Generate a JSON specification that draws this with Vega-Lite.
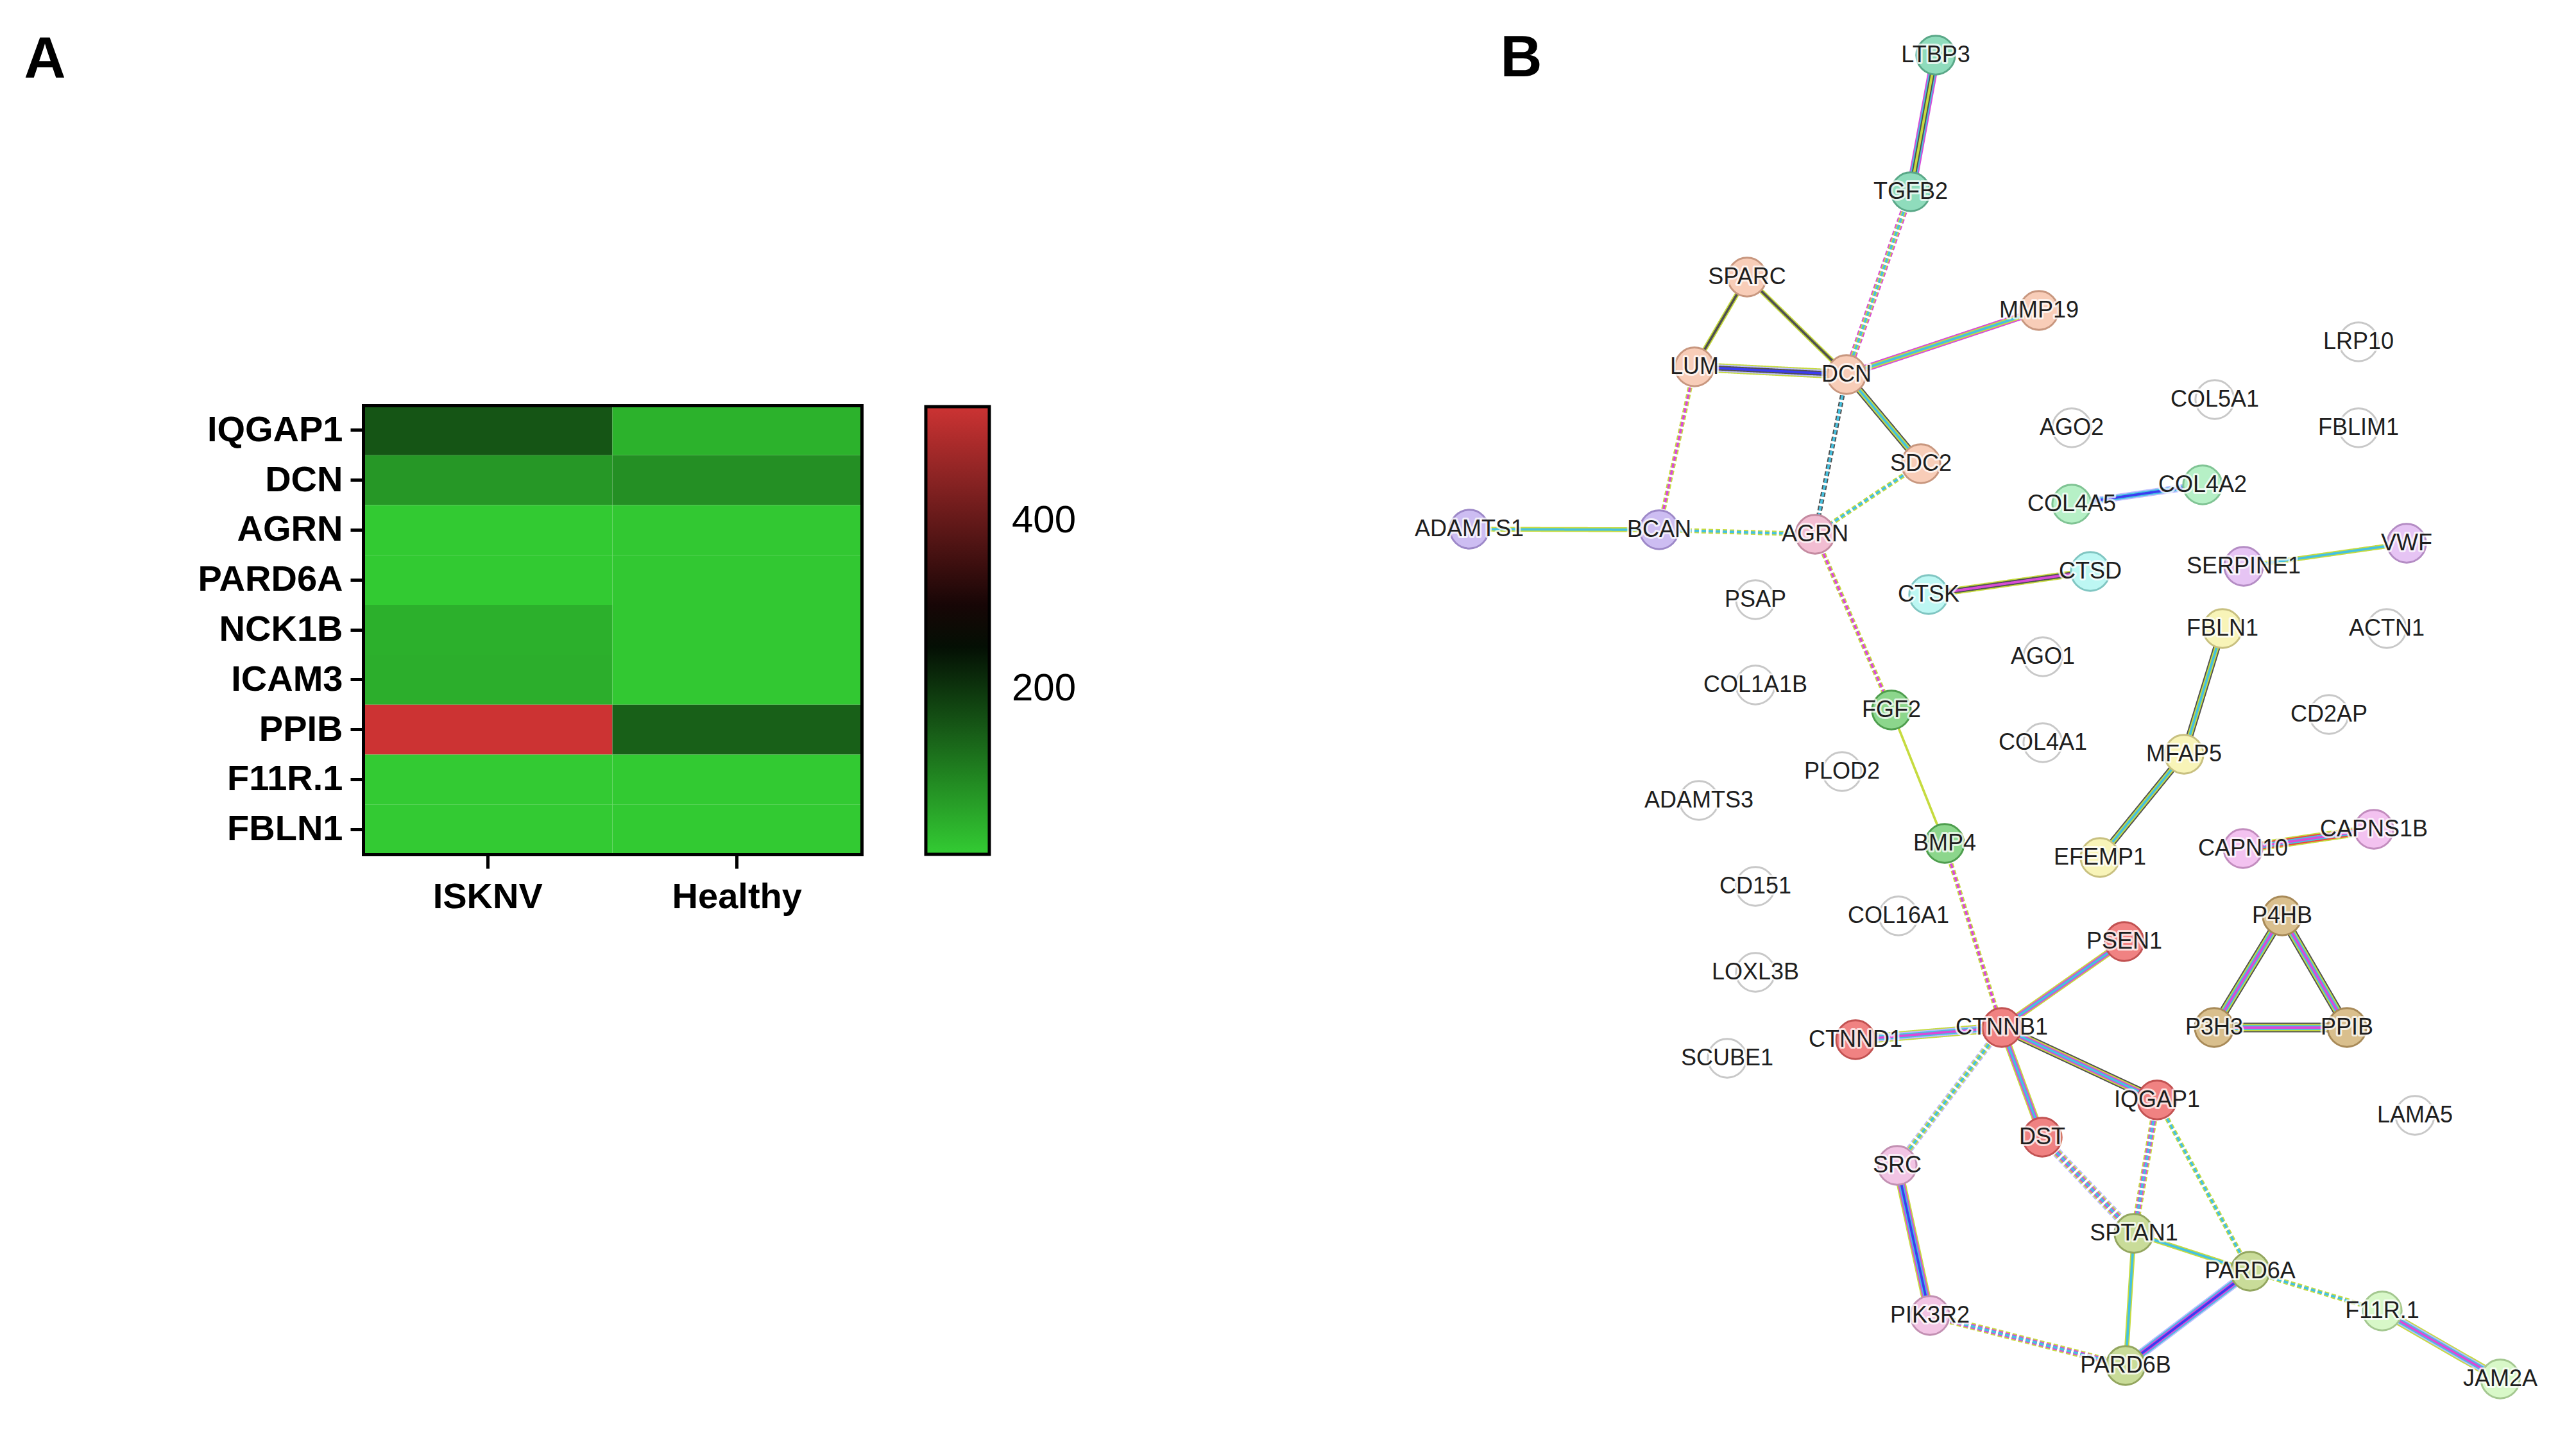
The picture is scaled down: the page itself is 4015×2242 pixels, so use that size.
{
  "$schema": "https://vega.github.io/schema/vega-lite/v6.json",
  "width": 4015,
  "height": 2242,
  "autosize": "none",
  "padding": 0,
  "background": "white",
  "config": {"view": {"stroke": null}, "font": "Liberation Sans"},
  "datasets": {
    "heat": [
      {"gene": "IQGAP1", "group": "ISKNV", "value": 158},
      {"gene": "IQGAP1", "group": "Healthy", "value": 37},
      {"gene": "DCN", "group": "ISKNV", "value": 72},
      {"gene": "DCN", "group": "Healthy", "value": 83},
      {"gene": "AGRN", "group": "ISKNV", "value": 6},
      {"gene": "AGRN", "group": "Healthy", "value": 8},
      {"gene": "PARD6A", "group": "ISKNV", "value": 6},
      {"gene": "PARD6A", "group": "Healthy", "value": 8},
      {"gene": "NCK1B", "group": "ISKNV", "value": 40},
      {"gene": "NCK1B", "group": "Healthy", "value": 8},
      {"gene": "ICAM3", "group": "ISKNV", "value": 42},
      {"gene": "ICAM3", "group": "Healthy", "value": 8},
      {"gene": "PPIB", "group": "ISKNV", "value": 536},
      {"gene": "PPIB", "group": "Healthy", "value": 144},
      {"gene": "F11R.1", "group": "ISKNV", "value": 5},
      {"gene": "F11R.1", "group": "Healthy", "value": 6},
      {"gene": "FBLN1", "group": "ISKNV", "value": 5},
      {"gene": "FBLN1", "group": "Healthy", "value": 6}
    ],
    "nodes": [
      {"id": "LTBP3", "x": 817, "y": 86, "cl": "c1"},
      {"id": "TGFB2", "x": 778, "y": 299, "cl": "c1"},
      {"id": "SPARC", "x": 523, "y": 432, "cl": "c2"},
      {"id": "MMP19", "x": 978, "y": 484, "cl": "c2"},
      {"id": "LUM", "x": 441, "y": 572, "cl": "c2"},
      {"id": "DCN", "x": 678, "y": 584, "cl": "c2"},
      {"id": "LRP10", "x": 1476, "y": 533, "cl": "none"},
      {"id": "COL5A1", "x": 1252, "y": 623, "cl": "none"},
      {"id": "AGO2", "x": 1029, "y": 667, "cl": "none"},
      {"id": "FBLIM1", "x": 1476, "y": 667, "cl": "none"},
      {"id": "SDC2", "x": 794, "y": 723, "cl": "c2"},
      {"id": "COL4A2", "x": 1233, "y": 756, "cl": "c5"},
      {"id": "COL4A5", "x": 1029, "y": 786, "cl": "c5"},
      {"id": "ADAMTS1", "x": 90, "y": 825, "cl": "c3"},
      {"id": "BCAN", "x": 386, "y": 826, "cl": "c3"},
      {"id": "AGRN", "x": 629, "y": 833, "cl": "c4"},
      {"id": "VWF", "x": 1551, "y": 847, "cl": "c7"},
      {"id": "SERPINE1", "x": 1297, "y": 883, "cl": "c7"},
      {"id": "CTSD", "x": 1058, "y": 891, "cl": "c6"},
      {"id": "CTSK", "x": 806, "y": 927, "cl": "c6"},
      {"id": "PSAP", "x": 536, "y": 935, "cl": "none"},
      {"id": "FBLN1", "x": 1264, "y": 980, "cl": "c8"},
      {"id": "ACTN1", "x": 1520, "y": 980, "cl": "none"},
      {"id": "AGO1", "x": 984, "y": 1024, "cl": "none"},
      {"id": "COL1A1B", "x": 536, "y": 1068, "cl": "none"},
      {"id": "FGF2", "x": 748, "y": 1107, "cl": "c9"},
      {"id": "CD2AP", "x": 1430, "y": 1114, "cl": "none"},
      {"id": "COL4A1", "x": 984, "y": 1158, "cl": "none"},
      {"id": "MFAP5", "x": 1204, "y": 1176, "cl": "c8"},
      {"id": "PLOD2", "x": 671, "y": 1203, "cl": "none"},
      {"id": "ADAMTS3", "x": 448, "y": 1248, "cl": "none"},
      {"id": "BMP4", "x": 831, "y": 1315, "cl": "c9"},
      {"id": "EFEMP1", "x": 1073, "y": 1337, "cl": "c8"},
      {"id": "CAPN10", "x": 1296, "y": 1323, "cl": "c10"},
      {"id": "CAPNS1B", "x": 1500, "y": 1293, "cl": "c10"},
      {"id": "CD151", "x": 536, "y": 1382, "cl": "none"},
      {"id": "COL16A1", "x": 759, "y": 1428, "cl": "none"},
      {"id": "P4HB", "x": 1357, "y": 1428, "cl": "c11"},
      {"id": "PSEN1", "x": 1111, "y": 1468, "cl": "c12"},
      {"id": "LOXL3B", "x": 536, "y": 1516, "cl": "none"},
      {"id": "CTNNB1", "x": 920, "y": 1602, "cl": "c12"},
      {"id": "CTNND1", "x": 692, "y": 1621, "cl": "c12"},
      {"id": "P3H3", "x": 1251, "y": 1602, "cl": "c11"},
      {"id": "PPIB", "x": 1458, "y": 1602, "cl": "c11"},
      {"id": "SCUBE1", "x": 492, "y": 1650, "cl": "none"},
      {"id": "IQGAP1", "x": 1162, "y": 1715, "cl": "c12"},
      {"id": "LAMA5", "x": 1564, "y": 1739, "cl": "none"},
      {"id": "DST", "x": 983, "y": 1773, "cl": "c12"},
      {"id": "SRC", "x": 757, "y": 1817, "cl": "c13"},
      {"id": "SPTAN1", "x": 1126, "y": 1923, "cl": "c14"},
      {"id": "PARD6A", "x": 1307, "y": 1982, "cl": "c14"},
      {"id": "F11R.1", "x": 1513, "y": 2044, "cl": "c15"},
      {"id": "PIK3R2", "x": 808, "y": 2051, "cl": "c13"},
      {"id": "PARD6B", "x": 1113, "y": 2129, "cl": "c14"},
      {"id": "JAM2A", "x": 1697, "y": 2150, "cl": "c15"}
    ],
    "edges": [
      {"s": "LTBP3", "t": "TGFB2", "ev": "exp", "lane": 4, "dash": "solid"},
      {"s": "LTBP3", "t": "TGFB2", "ev": "db", "lane": 3, "dash": "solid"},
      {"s": "LTBP3", "t": "TGFB2", "ev": "coex", "lane": 2, "dash": "solid"},
      {"s": "LTBP3", "t": "TGFB2", "ev": "txt", "lane": 1, "dash": "solid"},
      {"s": "SPARC", "t": "LUM", "ev": "txt", "lane": 2, "dash": "solid"},
      {"s": "SPARC", "t": "LUM", "ev": "coex", "lane": 1, "dash": "solid"},
      {"s": "SPARC", "t": "DCN", "ev": "txt", "lane": 2, "dash": "solid"},
      {"s": "SPARC", "t": "DCN", "ev": "coex", "lane": 1, "dash": "solid"},
      {"s": "LUM", "t": "DCN", "ev": "txt", "lane": 4, "dash": "solid"},
      {"s": "LUM", "t": "DCN", "ev": "hom", "lane": 3, "dash": "solid"},
      {"s": "LUM", "t": "DCN", "ev": "coex", "lane": 2, "dash": "solid"},
      {"s": "LUM", "t": "DCN", "ev": "cooc", "lane": 1, "dash": "solid"},
      {"s": "DCN", "t": "MMP19", "ev": "exp", "lane": 3, "dash": "solid"},
      {"s": "DCN", "t": "MMP19", "ev": "txt", "lane": 2, "dash": "solid"},
      {"s": "DCN", "t": "MMP19", "ev": "db", "lane": 1, "dash": "solid"},
      {"s": "DCN", "t": "SDC2", "ev": "coex", "lane": 3, "dash": "solid"},
      {"s": "DCN", "t": "SDC2", "ev": "txt", "lane": 2, "dash": "solid"},
      {"s": "DCN", "t": "SDC2", "ev": "db", "lane": 1, "dash": "solid"},
      {"s": "ADAMTS1", "t": "BCAN", "ev": "txt", "lane": 2, "dash": "solid"},
      {"s": "ADAMTS1", "t": "BCAN", "ev": "db", "lane": 1, "dash": "solid"},
      {"s": "COL4A5", "t": "COL4A2", "ev": "hom", "lane": 3, "dash": "solid"},
      {"s": "COL4A5", "t": "COL4A2", "ev": "db", "lane": 2, "dash": "solid"},
      {"s": "COL4A5", "t": "COL4A2", "ev": "cooc", "lane": 1, "dash": "solid"},
      {"s": "CTSK", "t": "CTSD", "ev": "txt", "lane": 3, "dash": "solid"},
      {"s": "CTSK", "t": "CTSD", "ev": "coex", "lane": 2, "dash": "solid"},
      {"s": "CTSK", "t": "CTSD", "ev": "exp", "lane": 1, "dash": "solid"},
      {"s": "SERPINE1", "t": "VWF", "ev": "txt", "lane": 2, "dash": "solid"},
      {"s": "SERPINE1", "t": "VWF", "ev": "db", "lane": 1, "dash": "solid"},
      {"s": "FBLN1", "t": "MFAP5", "ev": "coex", "lane": 3, "dash": "solid"},
      {"s": "FBLN1", "t": "MFAP5", "ev": "txt", "lane": 2, "dash": "solid"},
      {"s": "FBLN1", "t": "MFAP5", "ev": "db", "lane": 1, "dash": "solid"},
      {"s": "MFAP5", "t": "EFEMP1", "ev": "coex", "lane": 3, "dash": "solid"},
      {"s": "MFAP5", "t": "EFEMP1", "ev": "txt", "lane": 2, "dash": "solid"},
      {"s": "MFAP5", "t": "EFEMP1", "ev": "db", "lane": 1, "dash": "solid"},
      {"s": "FGF2", "t": "BMP4", "ev": "txt", "lane": 1, "dash": "solid"},
      {"s": "CAPN10", "t": "CAPNS1B", "ev": "txt", "lane": 4, "dash": "solid"},
      {"s": "CAPN10", "t": "CAPNS1B", "ev": "fus", "lane": 3, "dash": "solid"},
      {"s": "CAPN10", "t": "CAPNS1B", "ev": "db", "lane": 2, "dash": "solid"},
      {"s": "CAPN10", "t": "CAPNS1B", "ev": "exp", "lane": 1, "dash": "solid"},
      {"s": "P4HB", "t": "P3H3", "ev": "coex", "lane": 4, "dash": "solid"},
      {"s": "P4HB", "t": "P3H3", "ev": "txt", "lane": 3, "dash": "solid"},
      {"s": "P4HB", "t": "P3H3", "ev": "db", "lane": 2, "dash": "solid"},
      {"s": "P4HB", "t": "P3H3", "ev": "exp", "lane": 1, "dash": "solid"},
      {"s": "P4HB", "t": "PPIB", "ev": "coex", "lane": 4, "dash": "solid"},
      {"s": "P4HB", "t": "PPIB", "ev": "txt", "lane": 3, "dash": "solid"},
      {"s": "P4HB", "t": "PPIB", "ev": "db", "lane": 2, "dash": "solid"},
      {"s": "P4HB", "t": "PPIB", "ev": "exp", "lane": 1, "dash": "solid"},
      {"s": "P3H3", "t": "PPIB", "ev": "coex", "lane": 4, "dash": "solid"},
      {"s": "P3H3", "t": "PPIB", "ev": "txt", "lane": 3, "dash": "solid"},
      {"s": "P3H3", "t": "PPIB", "ev": "db", "lane": 2, "dash": "solid"},
      {"s": "P3H3", "t": "PPIB", "ev": "exp", "lane": 1, "dash": "solid"},
      {"s": "CTNNB1", "t": "PSEN1", "ev": "txt", "lane": 3, "dash": "solid"},
      {"s": "CTNNB1", "t": "PSEN1", "ev": "exp", "lane": 2, "dash": "solid"},
      {"s": "CTNNB1", "t": "PSEN1", "ev": "db", "lane": 1, "dash": "solid"},
      {"s": "CTNNB1", "t": "CTNND1", "ev": "txt", "lane": 4, "dash": "solid"},
      {"s": "CTNNB1", "t": "CTNND1", "ev": "hom", "lane": 3, "dash": "solid"},
      {"s": "CTNNB1", "t": "CTNND1", "ev": "db", "lane": 2, "dash": "solid"},
      {"s": "CTNNB1", "t": "CTNND1", "ev": "exp", "lane": 1, "dash": "solid"},
      {"s": "CTNNB1", "t": "IQGAP1", "ev": "coex", "lane": 4, "dash": "solid"},
      {"s": "CTNNB1", "t": "IQGAP1", "ev": "txt", "lane": 3, "dash": "solid"},
      {"s": "CTNNB1", "t": "IQGAP1", "ev": "exp", "lane": 2, "dash": "solid"},
      {"s": "CTNNB1", "t": "IQGAP1", "ev": "db", "lane": 1, "dash": "solid"},
      {"s": "CTNNB1", "t": "DST", "ev": "txt", "lane": 3, "dash": "solid"},
      {"s": "CTNNB1", "t": "DST", "ev": "exp", "lane": 2, "dash": "solid"},
      {"s": "CTNNB1", "t": "DST", "ev": "db", "lane": 1, "dash": "solid"},
      {"s": "SRC", "t": "PIK3R2", "ev": "txt", "lane": 4, "dash": "solid"},
      {"s": "SRC", "t": "PIK3R2", "ev": "exp", "lane": 3, "dash": "solid"},
      {"s": "SRC", "t": "PIK3R2", "ev": "db", "lane": 2, "dash": "solid"},
      {"s": "SRC", "t": "PIK3R2", "ev": "cooc", "lane": 1, "dash": "solid"},
      {"s": "SPTAN1", "t": "PARD6A", "ev": "txt", "lane": 2, "dash": "solid"},
      {"s": "SPTAN1", "t": "PARD6A", "ev": "db", "lane": 1, "dash": "solid"},
      {"s": "SPTAN1", "t": "PARD6B", "ev": "txt", "lane": 2, "dash": "solid"},
      {"s": "SPTAN1", "t": "PARD6B", "ev": "db", "lane": 1, "dash": "solid"},
      {"s": "PARD6A", "t": "PARD6B", "ev": "hom", "lane": 4, "dash": "solid"},
      {"s": "PARD6A", "t": "PARD6B", "ev": "db", "lane": 3, "dash": "solid"},
      {"s": "PARD6A", "t": "PARD6B", "ev": "exp", "lane": 2, "dash": "solid"},
      {"s": "PARD6A", "t": "PARD6B", "ev": "cooc", "lane": 1, "dash": "solid"},
      {"s": "F11R.1", "t": "JAM2A", "ev": "txt", "lane": 4, "dash": "solid"},
      {"s": "F11R.1", "t": "JAM2A", "ev": "hom", "lane": 3, "dash": "solid"},
      {"s": "F11R.1", "t": "JAM2A", "ev": "db", "lane": 2, "dash": "solid"},
      {"s": "F11R.1", "t": "JAM2A", "ev": "exp", "lane": 1, "dash": "solid"},
      {"s": "TGFB2", "t": "DCN", "ev": "exp", "lane": 3, "dash": "dashed"},
      {"s": "TGFB2", "t": "DCN", "ev": "txt", "lane": 2, "dash": "dashed"},
      {"s": "TGFB2", "t": "DCN", "ev": "db", "lane": 1, "dash": "dashed"},
      {"s": "LUM", "t": "BCAN", "ev": "txt", "lane": 2, "dash": "dashed"},
      {"s": "LUM", "t": "BCAN", "ev": "exp", "lane": 1, "dash": "dashed"},
      {"s": "DCN", "t": "AGRN", "ev": "coex", "lane": 2, "dash": "dashed"},
      {"s": "DCN", "t": "AGRN", "ev": "db", "lane": 1, "dash": "dashed"},
      {"s": "SDC2", "t": "AGRN", "ev": "txt", "lane": 2, "dash": "dashed"},
      {"s": "SDC2", "t": "AGRN", "ev": "db", "lane": 1, "dash": "dashed"},
      {"s": "BCAN", "t": "AGRN", "ev": "txt", "lane": 2, "dash": "dashed"},
      {"s": "BCAN", "t": "AGRN", "ev": "db", "lane": 1, "dash": "dashed"},
      {"s": "AGRN", "t": "FGF2", "ev": "txt", "lane": 2, "dash": "dashed"},
      {"s": "AGRN", "t": "FGF2", "ev": "exp", "lane": 1, "dash": "dashed"},
      {"s": "BMP4", "t": "CTNNB1", "ev": "txt", "lane": 2, "dash": "dashed"},
      {"s": "BMP4", "t": "CTNNB1", "ev": "exp", "lane": 1, "dash": "dashed"},
      {"s": "CTNNB1", "t": "SRC", "ev": "hom", "lane": 3, "dash": "dashed"},
      {"s": "CTNNB1", "t": "SRC", "ev": "txt", "lane": 2, "dash": "dashed"},
      {"s": "CTNNB1", "t": "SRC", "ev": "db", "lane": 1, "dash": "dashed"},
      {"s": "DST", "t": "SPTAN1", "ev": "hom", "lane": 4, "dash": "dashed"},
      {"s": "DST", "t": "SPTAN1", "ev": "txt", "lane": 3, "dash": "dashed"},
      {"s": "DST", "t": "SPTAN1", "ev": "exp", "lane": 2, "dash": "dashed"},
      {"s": "DST", "t": "SPTAN1", "ev": "db", "lane": 1, "dash": "dashed"},
      {"s": "IQGAP1", "t": "SPTAN1", "ev": "txt", "lane": 3, "dash": "dashed"},
      {"s": "IQGAP1", "t": "SPTAN1", "ev": "exp", "lane": 2, "dash": "dashed"},
      {"s": "IQGAP1", "t": "SPTAN1", "ev": "db", "lane": 1, "dash": "dashed"},
      {"s": "IQGAP1", "t": "PARD6A", "ev": "txt", "lane": 2, "dash": "dashed"},
      {"s": "IQGAP1", "t": "PARD6A", "ev": "db", "lane": 1, "dash": "dashed"},
      {"s": "PIK3R2", "t": "PARD6B", "ev": "txt", "lane": 3, "dash": "dashed"},
      {"s": "PIK3R2", "t": "PARD6B", "ev": "exp", "lane": 2, "dash": "dashed"},
      {"s": "PIK3R2", "t": "PARD6B", "ev": "db", "lane": 1, "dash": "dashed"},
      {"s": "PARD6A", "t": "F11R.1", "ev": "txt", "lane": 2, "dash": "dashed"},
      {"s": "PARD6A", "t": "F11R.1", "ev": "db", "lane": 1, "dash": "dashed"}
    ]
  },
  "resolve": {"scale": {"x": "independent", "y": "independent", "color": "independent"}},
  "layer": [
    {
      "data": {"name": "heat"},
      "layer": [
        {
          "mark": {"type": "rect"},
          "encoding": {
            "x": {"field": "group", "type": "nominal",
              "scale": {"domain": ["ISKNV", "Healthy"], "range": [566, 1343], "paddingInner": 0, "paddingOuter": 0},
              "axis": {"orient": "bottom", "offset": -910, "title": null, "labelAngle": 0, "labelFontSize": 56, "labelFontWeight": "bold", "labelColor": "black", "labelPadding": 17, "labelLimit": 0, "tickSize": 22, "tickWidth": 5, "tickColor": "black", "domainColor": "black", "domainWidth": 5, "domainCap": "square", "grid": false}},
            "y": {"field": "gene", "type": "nominal",
              "scale": {"domain": ["IQGAP1", "DCN", "AGRN", "PARD6A", "NCK1B", "ICAM3", "PPIB", "F11R.1", "FBLN1"], "range": [632, 1332], "paddingInner": 0, "paddingOuter": 0},
              "axis": {"orient": "left", "offset": -566, "title": "A", "titleAngle": 0, "titleX": -529, "titleY": 120, "titleAlign": "left", "titleBaseline": "alphabetic", "titleFontSize": 90, "titleFontWeight": "bold", "titleColor": "black", "labelFontSize": 56, "labelFontWeight": "bold", "labelColor": "black", "labelPadding": 12, "labelLimit": 0, "tickSize": 20, "tickWidth": 5, "tickColor": "black", "domainColor": "black", "domainWidth": 5, "domainCap": "square", "grid": false}},
            "color": {"field": "value", "type": "quantitative",
              "scale": {"domain": [3, 269.5, 536], "range": ["#33cc33", "#000000", "#cc3333"], "interpolate": "rgb"},
              "legend": {"orient": "none", "legendX": 1443, "legendY": 634, "direction": "vertical", "gradientLength": 698, "gradientThickness": 99, "values": [200, 400], "title": null, "labelFontSize": 60, "labelColor": "black", "labelOffset": 35, "gradientStrokeColor": "black", "gradientStrokeWidth": 5}}
          }
        },
        {
          "mark": {"type": "rect", "fillOpacity": 0},
          "encoding": {
            "x": {"field": "group", "type": "nominal",
              "axis": {"orient": "top", "offset": -632, "labels": false, "ticks": false, "title": null, "domainColor": "black", "domainWidth": 5, "domainCap": "square", "grid": false}},
            "y": {"field": "gene", "type": "nominal",
              "axis": {"orient": "right", "offset": -2672, "labels": false, "ticks": false, "title": "B", "titleAngle": 0, "titleX": 995, "titleY": 118, "titleAlign": "left", "titleBaseline": "alphabetic", "titleFontSize": 90, "titleFontWeight": "bold", "titleColor": "black", "domainColor": "black", "domainWidth": 5, "domainCap": "square", "grid": false}}
          }
        }
      ]
    },
    {
      "layer": [
        {
          "data": {"name": "edges"},
          "transform": [
            {"lookup": "s", "from": {"data": {"name": "nodes"}, "key": "id", "fields": ["x", "y"]}, "as": ["xs", "ys"]},
            {"lookup": "t", "from": {"data": {"name": "nodes"}, "key": "id", "fields": ["x", "y"]}, "as": ["xt", "yt"]}
          ],
          "mark": {"type": "rule", "strokeCap": "butt"},
          "encoding": {
            "x": {"field": "xs", "type": "quantitative",
              "scale": {"domain": [0, 1815], "range": [2200, 4015], "nice": false, "zero": false}, "axis": null},
            "y": {"field": "ys", "type": "quantitative",
              "scale": {"domain": [0, 2242], "range": [0, 2242], "nice": false, "zero": false}, "axis": null},
            "x2": {"field": "xt"},
            "y2": {"field": "yt"},
            "color": {"field": "ev", "type": "nominal",
              "scale": {"domain": ["exp", "db", "txt", "coex", "cooc", "hom", "fus"], "range": ["#d94ad9", "#45c1e0", "#c6db3f", "#505050", "#3c3cf0", "#bcbcff", "#f04040"]}, "legend": null},
            "strokeWidth": {"field": "lane", "type": "quantitative", "scale": {"domain": [0, 4], "range": [0, 15]}, "legend": null},
            "strokeDash": {"field": "dash", "type": "nominal", "scale": {"domain": ["solid", "dashed"], "range": [[1, 0], [7, 4]]}, "legend": null},
            "order": {"field": "lane", "sort": "descending"}
          }
        },
        {
          "data": {"name": "nodes"},
          "mark": {"type": "circle", "size": 3632, "strokeWidth": 3, "opacity": 1},
          "encoding": {
            "x": {"field": "x", "type": "quantitative", "axis": null},
            "y": {"field": "y", "type": "quantitative", "axis": null},
            "fill": {"field": "cl", "type": "nominal",
              "scale": {"domain": ["c1", "c2", "c3", "c4", "c5", "c6", "c7", "c8", "c9", "c10", "c11", "c12", "c13", "c14", "c15", "none"],
                "range": ["#8fdcbc", "#f8cdb8", "#cdbdf2", "#f2bdd2", "#b6f0c6", "#bdf7f3", "#e6c4f4", "#f8f4b8", "#8cd68c", "#f3c2f0", "#d9bf8d", "#f08282", "#f2c4e4", "#c9dc99", "#d8f8c8", "#ffffff"]}, "legend": null},
            "stroke": {"field": "cl", "type": "nominal",
              "scale": {"domain": ["c1", "c2", "c3", "c4", "c5", "c6", "c7", "c8", "c9", "c10", "c11", "c12", "c13", "c14", "c15", "none"],
                "range": ["#5aa888", "#c8977f", "#9d88c8", "#c48aa0", "#80c494", "#80c6c2", "#b48cc4", "#c8c080", "#4e9e4e", "#c28cbe", "#a88a58", "#c25252", "#c290b2", "#93a65f", "#a4c890", "#c8c8c8"]}, "legend": null}
          }
        },
        {
          "data": {"name": "nodes"},
          "mark": {"type": "text", "fontSize": 36, "font": "Liberation Sans", "align": "center", "baseline": "middle", "stroke": "white", "strokeWidth": 6, "strokeOpacity": 0.75, "strokeJoin": "round", "fill": "white", "fillOpacity": 0.75},
          "encoding": {
            "x": {"field": "x", "type": "quantitative", "axis": null},
            "y": {"field": "y", "type": "quantitative", "axis": null},
            "text": {"field": "id"}
          }
        },
        {
          "data": {"name": "nodes"},
          "mark": {"type": "text", "fontSize": 36, "font": "Liberation Sans", "align": "center", "baseline": "middle", "color": "#1e1e1e"},
          "encoding": {
            "x": {"field": "x", "type": "quantitative", "axis": null},
            "y": {"field": "y", "type": "quantitative", "axis": null},
            "text": {"field": "id"}
          }
        }
      ]
    }
  ]
}
